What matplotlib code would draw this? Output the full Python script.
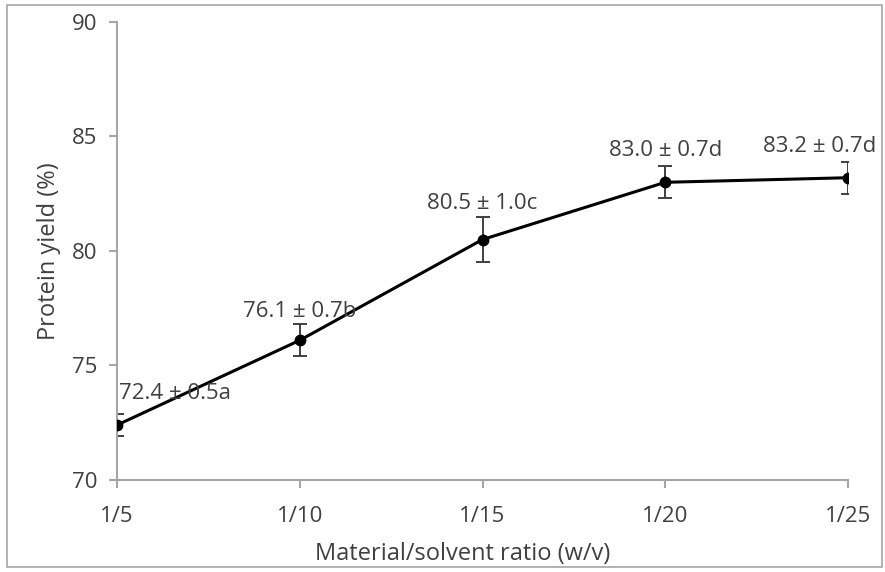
import matplotlib
matplotlib.use("Agg")
import matplotlib.pyplot as plt
from matplotlib.patches import Rectangle

ratios = ["1/5", "1/10", "1/15", "1/20", "1/25"]
yield_mean = [72.4, 76.1, 80.5, 83.0, 83.2]
yield_sd = [0.5, 0.7, 1.0, 0.7, 0.7]
letters = ["a", "b", "c", "d", "d"]

plt.rcParams['font.family'] = ['Open Sans', 'DejaVu Sans']

W, H = 885, 572
fig = plt.figure(figsize=(W / 100, H / 100), dpi=100)
ax = fig.add_axes([117 / W, 1 - 480 / H, (848 - 117) / W, (480 - 22) / H])

x = list(range(len(ratios)))
ax.errorbar(x, yield_mean, yerr=yield_sd, fmt='none', ecolor='#404040',
            elinewidth=1.4, capsize=5, capthick=1.4, zorder=2)
ax.plot(x, yield_mean, color='black', lw=2.2, marker='o', markersize=7.5, zorder=3)

offsets = [(2, 32), (0, 29), (0, 36), (0, 32), (-28, 31)]
aligns = ['left', 'center', 'center', 'center', 'center']
for xi, m, s, l, off, ha in zip(x, yield_mean, yield_sd, letters, offsets, aligns):
    ax.annotate(f"{m:.1f} \u00b1 {s:.1f}{l}", xy=(xi, m), xytext=off,
                textcoords='offset pixels', ha=ha, va='center',
                fontsize=16, color='#404040', zorder=4)

ax.set_xlim(0, len(ratios) - 1)
ax.set_ylim(70, 90)
ax.set_yticks([70, 75, 80, 85, 90])
ax.set_xticks(x)
ax.set_xticklabels(ratios)

for side in ['top', 'right']:
    ax.spines[side].set_visible(False)
for side in ['left', 'bottom']:
    ax.spines[side].set_color('#a6a6a6')
    ax.spines[side].set_linewidth(1.5)
ax.tick_params(axis='both', colors='#a6a6a6', width=1.5, length=6,
               labelsize=16, labelcolor='#404040', pad=8)
ax.tick_params(axis='x', pad=13)

ax.set_xlabel("Material/solvent ratio (w/v)", fontsize=17, color='#404040', labelpad=10)
ax.xaxis.set_label_coords(0.473, -0.135)
ax.set_ylabel("Protein yield (%)", fontsize=17, color='#404040', labelpad=8)

fig.patches.append(Rectangle((7 / W, 5 / H), (882 - 7) / W, (567 - 5) / H,
                             transform=fig.transFigure, fill=False,
                             edgecolor='#a6a6a6', lw=1.2))

fig.savefig("out.png", dpi=100)
